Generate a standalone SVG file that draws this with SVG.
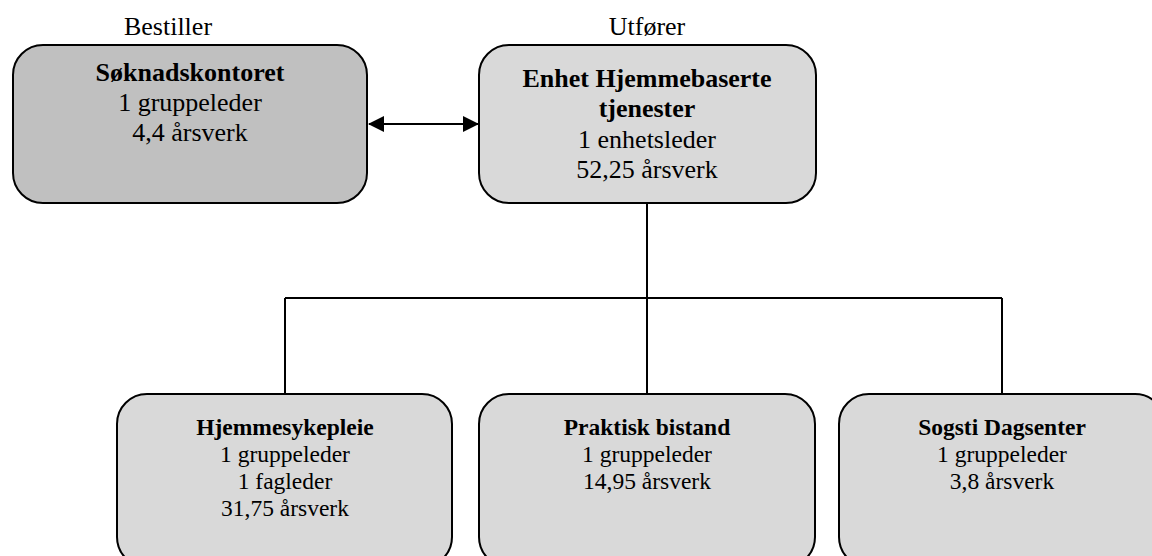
<svg xmlns="http://www.w3.org/2000/svg" width="1152" height="556" viewBox="0 0 1152 556">
<style>
.box{stroke:#000;stroke-width:2;fill:#d9d9d9}
.dark{fill:#c0c0c0}
text{font-family:"Liberation Serif","Times New Roman",serif;fill:#000;text-anchor:middle}
.t{font-size:26px}
.s{font-size:23.5px}
.b{font-weight:bold}
.con{stroke:#000;stroke-width:2;fill:none}
</style>
<defs>
<marker id="ah" markerWidth="16" markerHeight="16" refX="15" refY="8" orient="auto-start-reverse" markerUnits="userSpaceOnUse">
<path d="M0,0 L16,8 L0,16 Z" fill="#000"/>
</marker>
</defs>
<text class="t" x="168" y="35">Bestiller</text>
<text class="t" x="647" y="35">Utfører</text>
<g id="connectors">
<line class="con" x1="369" y1="124" x2="478" y2="124" marker-start="url(#ah)" marker-end="url(#ah)"/>
<path class="con" d="M647,203 V393 M285,298 H1002 M285,298 V394 M1002,298 V394"/>
</g>
<g id="soknadskontoret">
<rect class="box dark" x="13" y="45" width="354" height="158" rx="30"/>
<text class="t b" x="190" y="81">Søknadskontoret</text>
<text class="t" x="190" y="111">1 gruppeleder</text>
<text class="t" x="190" y="141">4,4 årsverk</text>
</g>
<g id="enhet">
<rect class="box" x="479" y="45" width="337" height="158" rx="30"/>
<text class="t b" x="647" y="87">Enhet Hjemmebaserte</text>
<text class="t b" x="647" y="117">tjenester</text>
<text class="t" x="647" y="148">1 enhetsleder</text>
<text class="t" x="647" y="178">52,25 årsverk</text>
</g>
<g id="hjemmesykepleie">
<rect class="box" x="117" y="394" width="335" height="173" rx="30"/>
<text class="s b" x="285" y="435">Hjemmesykepleie</text>
<text class="s" x="285" y="462">1 gruppeleder</text>
<text class="s" x="285" y="489">1 fagleder</text>
<text class="s" x="285" y="516">31,75 årsverk</text>
</g>
<g id="praktisk">
<rect class="box" x="479" y="394" width="336" height="173" rx="30"/>
<text class="s b" x="647" y="435">Praktisk bistand</text>
<text class="s" x="647" y="462">1 gruppeleder</text>
<text class="s" x="647" y="489">14,95 årsverk</text>
</g>
<g id="sogsti">
<rect class="box" x="839" y="394" width="326" height="173" rx="30"/>
<text class="s b" x="1002" y="435">Sogsti Dagsenter</text>
<text class="s" x="1002" y="462">1 gruppeleder</text>
<text class="s" x="1002" y="489">3,8 årsverk</text>
</g>
</svg>
